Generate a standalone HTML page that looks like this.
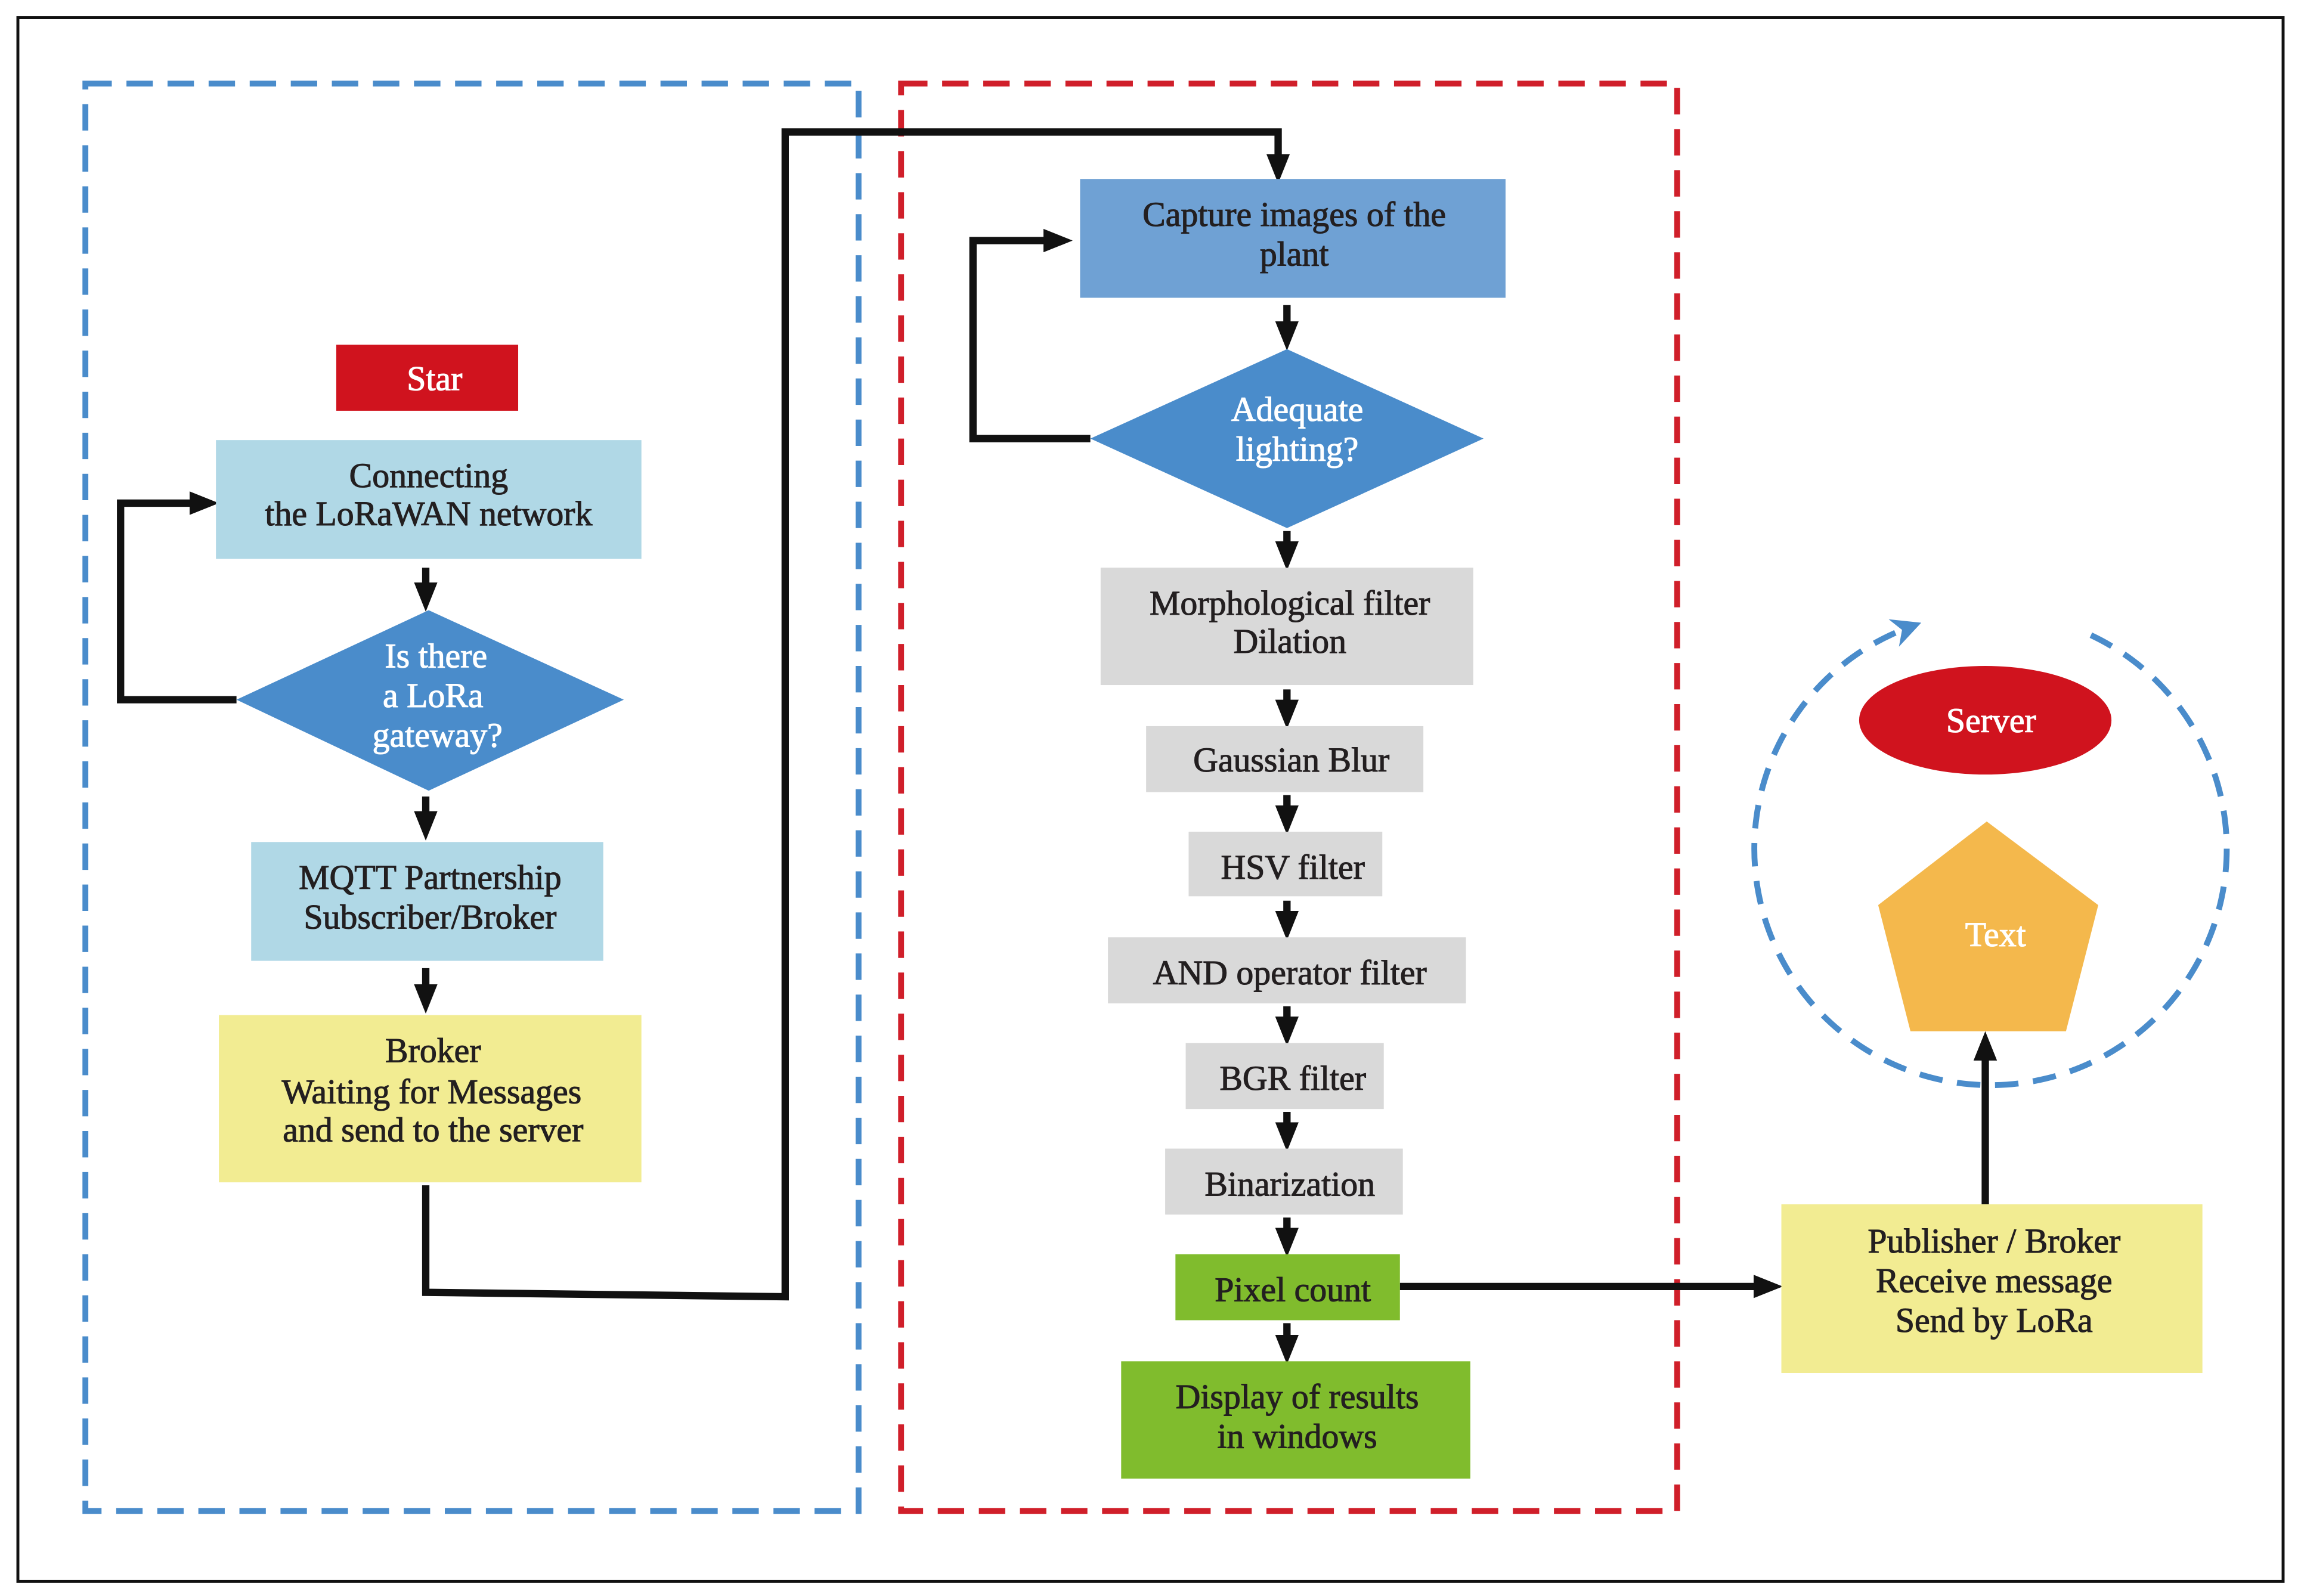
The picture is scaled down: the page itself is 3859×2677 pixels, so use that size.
<!DOCTYPE html>
<html><head><meta charset="utf-8"><style>
html,body{margin:0;padding:0;background:#fff}
svg{display:block}
text{font-family:"Liberation Serif",serif;font-size:23.5px;fill:#231f20;stroke:#231f20;stroke-width:0.45;text-anchor:middle}
.w{fill:#fff;stroke:#fff}
</style></head><body>
<svg width="3859" height="2677" viewBox="0 0 1568 1088" xmlns="http://www.w3.org/2000/svg">
<defs>
<marker id="a" markerWidth="4" markerHeight="4" refX="2.2" refY="2" orient="auto" markerUnits="strokeWidth">
<path d="M0,0.4 L4,2 L0,3.6 Z" fill="#111"/></marker>
<marker id="b" markerWidth="5" markerHeight="5" refX="2.5" refY="2.5" orient="auto" markerUnits="strokeWidth">
<path d="M0,0 L5,2.5 L0,5 L1.5,2.5 Z" fill="#4a8ccb"/></marker>
</defs>
<rect x="0" y="0" width="1568" height="1088" fill="#fff"/>
<rect x="12" y="12" width="1544" height="1066" fill="none" stroke="#111" stroke-width="2"/>
<rect x="58" y="57" width="527" height="973" fill="none" stroke="#4a8ccb" stroke-width="4" stroke-dasharray="18,10"/>
<rect x="614" y="57" width="529" height="973" fill="none" stroke="#d01f2a" stroke-width="4" stroke-dasharray="18,10"/>

<g stroke="#111" stroke-width="5" fill="none">
<polyline points="161,477 82,477 82,343 140,343" marker-end="url(#a)"/>
<line x1="290" y1="387" x2="290" y2="408" marker-end="url(#a)"/>
<line x1="290" y1="543" x2="290" y2="564" marker-end="url(#a)"/>
<line x1="290" y1="660" x2="290" y2="682" marker-end="url(#a)"/>
<polyline points="290,808 290,881 535,884 535,90 871,90 871,116" marker-end="url(#a)"/>
<polyline points="743,299 663,299 663,164 722,164" marker-end="url(#a)"/>
<line x1="877" y1="208" x2="877" y2="230" marker-end="url(#a)"/>
<line x1="877" y1="362" x2="877" y2="380" marker-end="url(#a)"/>
<line x1="877" y1="470" x2="877" y2="488" marker-end="url(#a)"/>
<line x1="877" y1="542" x2="877" y2="560" marker-end="url(#a)"/>
<line x1="877" y1="614" x2="877" y2="632" marker-end="url(#a)"/>
<line x1="877" y1="686" x2="877" y2="704" marker-end="url(#a)"/>
<line x1="877" y1="758" x2="877" y2="776" marker-end="url(#a)"/>
<line x1="877" y1="830" x2="877" y2="848" marker-end="url(#a)"/>
<line x1="877" y1="902" x2="877" y2="921" marker-end="url(#a)"/>
<line x1="954" y1="877" x2="1206" y2="877" marker-end="url(#a)"/>
<line x1="1353" y1="821" x2="1353" y2="712" marker-end="url(#a)"/>
</g>

<rect x="229" y="235" width="124" height="45" fill="#d0131e"/><text class="w" x="296" y="266">Star</text>
<rect x="147" y="300" width="290" height="81" fill="#b0d8e6"/><text x="292" y="332">Connecting</text><text x="292" y="358">the LoRaWAN network</text>
<polygon points="161,477 292,416 425,477 292,539" fill="#4a8ccb"/>
<text class="w" x="297" y="455">Is there</text><text class="w" x="295" y="482">a LoRa</text><text class="w" x="298" y="509">gateway?</text>
<rect x="171" y="574" width="240" height="81" fill="#b0d8e6"/><text x="293" y="606">MQTT Partnership</text><text x="293" y="633">Subscriber/Broker</text>
<rect x="149" y="692" width="288" height="114" fill="#f2ec92"/><text x="295" y="724">Broker</text><text x="294" y="752">Waiting for Messages</text><text x="295" y="778">and send to the server</text>

<rect x="736" y="122" width="290" height="81" fill="#6fa1d4"/><text x="882" y="154">Capture images of the</text><text x="882" y="181">plant</text>
<polygon points="743,299 877,238 1011,299 877,360" fill="#4a8ccb"/>
<text class="w" x="884" y="287">Adequate</text><text class="w" x="884" y="314">lighting?</text>
<rect x="750" y="387" width="254" height="80" fill="#d9d9d9"/><text x="879" y="419">Morphological filter</text><text x="879" y="445">Dilation</text>
<rect x="781" y="495" width="189" height="45" fill="#d9d9d9"/><text x="880" y="526">Gaussian Blur</text>
<rect x="810" y="567" width="132" height="44" fill="#d9d9d9"/><text x="881" y="599">HSV filter</text>
<rect x="755" y="639" width="244" height="45" fill="#d9d9d9"/><text x="879" y="671">AND operator filter</text>
<rect x="808" y="711" width="135" height="45" fill="#d9d9d9"/><text x="881" y="743">BGR filter</text>
<rect x="794" y="783" width="162" height="45" fill="#d9d9d9"/><text x="879" y="815">Binarization</text>
<rect x="801" y="855" width="153" height="45" fill="#80bc2d"/><text x="881" y="887">Pixel count</text>
<rect x="764" y="928" width="238" height="80" fill="#80bc2d"/><text x="884" y="960">Display of results</text><text x="884" y="987">in windows</text>

<rect x="1214" y="821" width="287" height="115" fill="#f2ec92"/><text x="1359" y="854">Publisher / Broker</text><text x="1359" y="881">Receive message</text><text x="1359" y="908">Send by LoRa</text>

<path d="M1425,433 A161,161 0 1 1 1300,428" fill="none" stroke="#4a8ccb" stroke-width="4" stroke-dasharray="16,10" marker-end="url(#b)"/>
<ellipse cx="1353" cy="491" rx="86" ry="37" fill="#d0131e"/><text class="w" x="1357" y="499">Server</text>
<polygon points="1354,560 1430,617 1408,703 1302,703 1280,617" fill="#f4b84c"/><text class="w" x="1360" y="645">Text</text>
</svg>
</body></html>
